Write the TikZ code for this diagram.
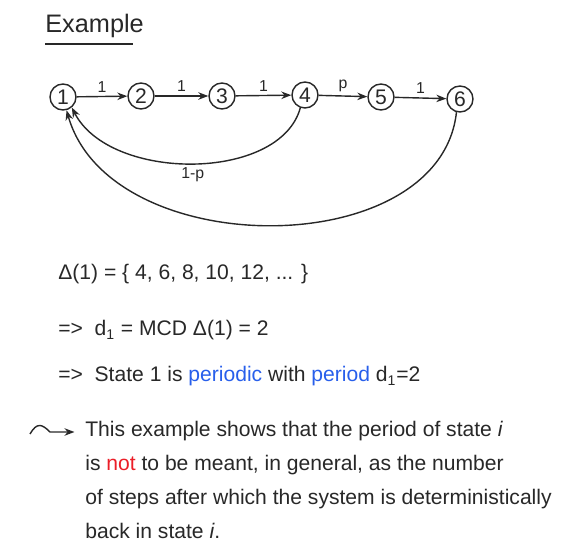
\documentclass[tikz,border=0pt]{standalone}
\usepackage{fontspec}
\setmainfont{Liberation Sans}
\usepackage{tikz}
\usetikzlibrary{arrows.meta,positioning}
\definecolor{ink}{RGB}{40,40,40}
\definecolor{penblue}{RGB}{40,95,235}
\definecolor{penred}{RGB}{235,30,40}
\newcommand{\idx}{\textit{i}}
\tikzset{
  state/.style={draw=ink, circle, thick, minimum size=0.52cm, inner sep=0pt, font=\large},
  flow/.style={draw=ink, thick, -{Stealth[length=2mm]}},
  lbl/.style={font=\small, inner sep=2pt},
  line/.style={anchor=base west, font=\large, inner sep=0pt}
}
\begin{document}
\begin{tikzpicture}[x=0.02cm, y=-0.02cm, ink]
  \useasboundingbox (0,0) rectangle (562,560);
  % titolo
  \node[anchor=base west, font=\Large, inner sep=0pt] (title) at (45,33) {Example};
  \draw[ink, thick] (title.south west) ++(0,-3pt) -- ++(88,0);

  % catena
  \node[state] (s1) at (63,97) {1};
  \node[state] (s2) at (141,96) {2};
  \node[state] (s3) at (222,96) {3};
  \node[state] (s4) at (305,95) {4};
  \node[state] (s5) at (381,97) {5};
  \node[state] (s6) at (460,99) {6};

  \draw[flow] (s1) -- node[lbl,above]{1} (s2);
  \draw[flow] (s2) -- node[lbl,above]{1} (s3);
  \draw[flow] (s3) -- node[lbl,above]{1} (s4);
  \draw[flow] (s4) -- node[lbl,above]{p} (s5);
  \draw[flow] (s5) -- node[lbl,above]{1} (s6);
  \draw[flow] (s4.-110) .. controls (280,182) and (110,182) .. node[lbl,below]{1-p} (s1.-50);
  \draw[flow] (s6.-105) .. controls (440,263) and (110,263) .. (s1.-75);

  % testo
  \node[line] (delta) at (58,280) {Δ(1) = \{ 4, 6, 8, 10, 12, ... \}};
  \node[line] (mcd) at (58,336) {=>\ \ d\textsubscript{1} = MCD Δ(1) = 2};
  \node[line] (per) at (58,382) {=>\ \ State 1 is \textcolor{penblue}{periodic} with \textcolor{penblue}{period} d\textsubscript{1}=2};

  \node[line] (n1) at (85,437) {This example shows that the period of state \idx};
  \node[line] (n2) at (85,471) {is \textcolor{penred}{not} to be meant, in general, as the number};
  \node[line] (n3) at (85,505) {of steps after which the system is deterministically};
  \node[line] (n4) at (85,539) {back in state \idx.};

  \coordinate (sq) at (30,434);
  \draw[flow, shorten >=6pt] (sq) .. controls (37,422) and (42,424) .. (50,432) -- (n1.west |- 0,432);
\end{tikzpicture}
\end{document}
